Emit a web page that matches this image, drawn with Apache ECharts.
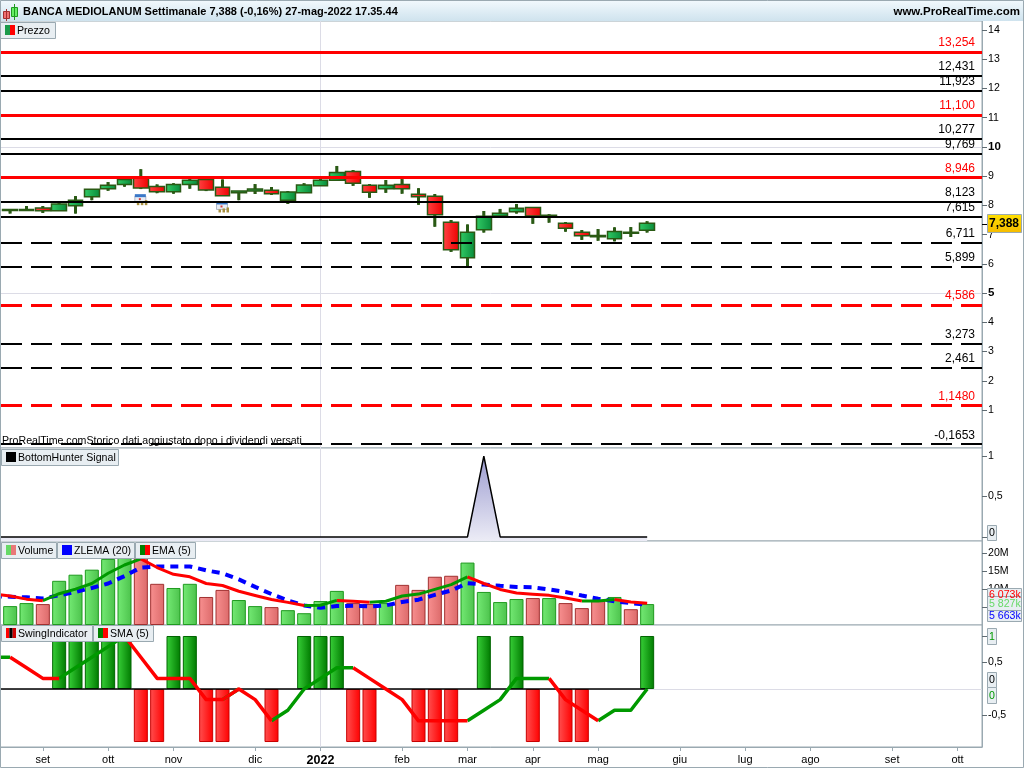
<!DOCTYPE html>
<html><head><meta charset="utf-8">
<style>html,body{margin:0;padding:0;background:#fff}#c{width:1024px;height:768px}</style>
<script src="https://cdn.jsdelivr.net/npm/echarts@6/dist/echarts.min.js"></script>
</head><body><div id="c"></div>
<script>
// Weekly categories: slot 0 is the week just left of the visible window.
const categories = ['', '', '', 'set', '', '', '', 'ott', '', '', '', 'nov', '', '', '', '', 'dic', '', '', '', '2022', '', '', '', '', 'feb', '', '', '', 'mar', '', '', '', 'apr', '', '', '', 'mag', '', '', '', '', 'giu', '', '', '', 'lug', '', '', '', 'ago', '', '', '', '', 'set', '', '', '', 'ott', ''];
const YEAR_SLOT = 20;

const opens  = [7.83,7.83,7.91,7.82,7.99,8.30,8.57,8.72,8.93,8.65,8.47,8.72,8.89,8.62,8.43,8.49,8.52,8.18,8.43,8.67,8.86,9.16,8.69,8.57,8.72,8.38,8.31,7.42,6.21,7.17,7.64,7.78,7.93,7.66,7.39,7.08,6.93,6.86,7.05,7.15];
const closes = [7.86,7.86,7.82,8.05,8.18,8.55,8.69,8.89,8.60,8.47,8.72,8.86,8.53,8.33,8.49,8.56,8.40,8.46,8.70,8.86,9.13,8.76,8.45,8.69,8.57,8.30,7.68,6.48,7.08,7.63,7.73,7.90,7.64,7.63,7.22,6.96,6.97,7.11,7.08,7.388];
const lows   = [7.72,7.83,7.74,7.82,7.72,8.18,8.50,8.64,8.56,8.42,8.40,8.57,8.49,8.33,8.18,8.39,8.36,8.05,8.43,8.67,8.84,8.67,8.26,8.43,8.40,8.02,7.27,6.41,5.87,7.07,7.58,7.72,7.37,7.41,7.10,6.82,6.79,6.77,6.92,7.07];
const highs  = [7.87,7.98,7.98,8.13,8.32,8.55,8.80,8.95,9.24,8.72,8.76,8.93,8.89,8.89,8.49,8.73,8.63,8.49,8.76,8.93,9.35,9.21,8.73,8.87,8.90,8.59,8.39,7.50,7.35,7.81,7.88,8.05,7.93,7.70,7.43,7.16,7.19,7.25,7.26,7.46];

const redSolidLevels    = [[13.254,'13,254'],[11.1,'11,100'],[8.946,'8,946']];
const blackSolidLevels  = [[12.431,'12,431'],[11.923,'11,923'],[10.277,'10,277'],[9.769,'9,769'],[8.123,'8,123'],[7.615,'7,615']];
const blackDashedLevels = [[6.711,'6,711'],[5.899,'5,899'],[3.273,'3,273'],[2.461,'2,461'],[-0.1653,'-0,1653']];
const redDashedLevels   = [[4.586,'4,586'],[1.148,'1,1480']];
const dividendSlots  = [9, 14];
const dividendLevels = [8.18, 7.93];

const priceTicks = [14,13,12,11,10,9,8,7,6,5,4,3,2,1];
const signalTicks = [1,0.5,0];
const volumeTicks = [20,15,10,5];
const swingTicks = [1,0.5,-0.5];

const signal = [0,0,0,0,0,0,0,0,0,0,0,0,0,0,0,0,0,0,0,0,0,0,0,0,0,0,0,0,0,0,1,0,0,0,0,0,0,0,0,0,0];

const volumes = [5.26,6.1,5.82,12.3,14.0,15.4,18.4,18.8,18.6,11.46,10.3,11.46,7.8,9.77,6.95,5.26,4.98,4.13,3.28,6.67,9.49,6.1,5.83,6.1,11.17,9.77,13.43,13.7,17.37,9.2,6.38,7.23,7.5,7.5,6.1,4.7,6.67,7.8,4.4,5.827];
const volumeIsUp = [1,1,0,1,1,1,1,1,0,0,1,1,0,0,1,1,0,1,1,1,1,0,0,1,0,0,0,0,1,1,1,1,0,1,0,0,0,1,0,1];
const zlema = [8.0,7.89,7.7,7.4,8.26,9.2,10.3,11.55,13.6,16.0,16.3,16.3,16.3,15.2,14.4,12.7,10.6,8.6,6.85,5.45,4.8,5.26,5.35,5.16,5.45,6.4,7.05,8.4,9.6,11.65,11.25,10.9,10.6,10.5,9.9,9.2,8.2,7.3,6.6,6.1,5.663];
const ema = [8.6,8.08,7.2,6.77,8.7,9.98,11.55,14.4,16.7,18.4,16.0,14.1,13.4,11.55,11.0,9.4,8.2,7.1,6.3,5.45,5.5,6.85,6.6,6.3,6.6,8.08,8.6,9.9,11.25,13.4,11.55,9.9,8.9,8.55,8.25,7.5,6.67,6.7,7.1,6.4,6.073];

const swing = [null,null,null,1,1,1,1,1,-1,-1,1,1,-1,-1,null,null,-1,null,1,1,1,-1,-1,null,null,-1,-1,-1,null,1,null,1,-1,null,-1,-1,null,null,null,1];
const sma = [0.6,0.6,0.4,0.2,0.2,0.4,0.6,0.8,1,0.6,0.2,0.2,0.2,-0.2,-0.2,0,-0.2,-0.6,-0.4,0,0.2,0.4,0.4,0.2,0,-0.2,-0.6,-0.6,-0.6,-0.6,-0.4,-0.2,0.2,0.2,0.2,-0.2,-0.4,-0.6,-0.4,-0.4,0];
const zeroLine = sma.map(() => 0);

const FONT = '"Liberation Sans", Arial, sans-serif';
const EDGE = '#9aa9b1', WICK = '#2a5a14';
const lr = (a, b) => ({type:'linear',x:0,y:0,x2:1,y2:0,colorStops:[{offset:0,color:a},{offset:1,color:b}]});
const comma = v => String(v).replace('.', ',');
const bold = new Set(['10','5','2022']);

const panels = [[21,427],[448,93],[541,84],[625,122]];
const grid = panels.map(([top,height]) => ({left:-14.33,width:996.33,top,height,show:true,borderColor:EDGE,borderWidth:1,backgroundColor:'#fff',outerBoundsMode:'none'}));
const xAxis = panels.map((_, i) => {
  const last = i === 3;
  return {type:'category',gridIndex:i,data:categories,boundaryGap:true,position:'bottom',
    axisLine:{show:last,onZero:false,lineStyle:{color:EDGE}},
    axisTick:{show:last,alignWithLabel:true,length:4,lineStyle:{color:EDGE},interval:(n,v)=>v!==''},
    axisLabel:{show:last,interval:(n,v)=>v!=='',margin:7,color:'#000',fontFamily:FONT,fontSize:11,
      formatter:v=>bold.has(v)?`{b|${v}}`:v,rich:{b:{fontWeight:'bold',fontSize:12.5,fontFamily:FONT,color:'#000'}}},
    splitLine:{show:false}};
});
function yA(i,min,max,ticks,fmt){
  return {type:'value',gridIndex:i,position:'right',min,max,scale:true,
    axisLine:{show:true,onZero:false,lineStyle:{color:EDGE}},
    axisTick:{show:true,length:5,inside:false,customValues:ticks,lineStyle:{color:'#5f6b72'}},
    axisLabel:{show:true,customValues:ticks,margin:6,color:'#000',fontFamily:FONT,fontSize:10.6,formatter:fmt,
      rich:{b:{fontWeight:'bold',fontSize:11.5,fontFamily:FONT,color:'#000'}}},
    splitLine:{show:false}};
}
const yAxis = [
  yA(0,-0.3,14.31,priceTicks,v=>bold.has(String(v))?`{b|${v}}`:String(v)),
  yA(1,-0.05,1.1,signalTicks,comma),
  yA(2,0,23.38,volumeTicks,v=>v+'M'),
  yA(3,-1.094,1.2075,swingTicks,comma)
];

function backdrop(i, extra){
  return {type:'line',name:'guide'+i,xAxisIndex:i,yAxisIndex:i,data:[],z:1,silent:true,
    markLine:{silent:true,symbol:['none','none'],animation:false,z:1,label:{show:false},
      lineStyle:{color:'#dcdce6',width:1,type:'solid'},
      data:[{xAxis:YEAR_SLOT}].concat(extra.map(v=>({yAxis:v})))}};
}
function levels(name, list, color, width, dashed){
  return {type:'line',name,xAxisIndex:0,yAxisIndex:0,data:[],z:6,silent:true,
    markLine:{silent:true,symbol:['none','none'],animation:false,z:6,
      lineStyle:{color,width,type:dashed?[21,9]:'solid',dashOffset:dashed?14.67:0},
      label:{show:true,position:'insideEndTop',distance:[7,3],color:color==='#ff0000'?'#ff0000':'#000',fontFamily:FONT,fontSize:12,formatter:p=>p.name},
      data:list.map(([v,t])=>({yAxis:v,name:t}))}};
}
// split a line into rising / falling runs (flat runs keep the previous colour)
function runs(values){
  const dir=[]; let d=1;
  for(let i=0;i<values.length-1;i++){ if(values[i+1]>values[i]) d=1; else if(values[i+1]<values[i]) d=-1; dir.push(d); }
  const pick=s=>values.map((v,i)=>[i,(dir[i]===s||dir[i-1]===s)?v:null]);
  return {up:pick(1),down:pick(-1)};
}
const emaRuns=runs(ema), smaRuns=runs(sma);
function trend(name,i,data,color,width){
  return {type:'line',name,xAxisIndex:i,yAxisIndex:i,data,showSymbol:false,symbol:'none',z:5,silent:true,
    lineStyle:{color,width,join:'round'},itemStyle:{color}};
}
const series = [
  backdrop(0,[10,5]), backdrop(1,[]), backdrop(2,[]), backdrop(3,[0]),
  {type:'custom',name:'Ombre',xAxisIndex:0,yAxisIndex:0,z:2,silent:true,clip:true,
    data:lows.map((l,i)=>[i+1,l,highs[i]]),encode:{x:0,y:[1,2]},
    renderItem:(p,api)=>{const a=api.coord([api.value(0),api.value(1)]),b=api.coord([api.value(0),api.value(2)]);
      return {type:'line',shape:{x1:a[0],y1:a[1],x2:b[0],y2:b[1]},style:{stroke:WICK,lineWidth:3}};}},
  {type:'candlestick',name:'Prezzo',xAxisIndex:0,yAxisIndex:0,z:3,silent:true,barWidth:15,
    data:opens.map((o,i)=>[i+1,o,closes[i],lows[i],highs[i]]),encode:{x:0,y:[1,2,3,4]},
    itemStyle:{color:lr('#33cc66','#078a3a'),color0:lr('#ff4444','#ee0000'),borderColor:WICK,borderColor0:WICK,borderWidth:1.5}},
  {type:'custom',name:'Dividendi',xAxisIndex:0,yAxisIndex:0,z:4,silent:true,
    data:dividendSlots.map((s,i)=>[s,dividendLevels[i]]),encode:{x:0,y:1},
    renderItem:(p,api)=>{const c=api.coord([api.value(0),api.value(1)]),x=c[0]-6,y=c[1]-6;
      return {type:'group',children:[
        {type:'rect',shape:{x,y:y+2,width:11,height:6},style:{fill:'#e8ecf4',stroke:'#b0b8c8',lineWidth:1}},
        {type:'rect',shape:{x,y,width:11,height:3},style:{fill:'#3a78c8'}},
        {type:'rect',shape:{x:x+4,y:y+4,width:2,height:2},style:{fill:'#d04040'}},
        {type:'rect',shape:{x:x+2,y:y+8,width:2.5,height:3},style:{fill:'#a89040'}},
        {type:'rect',shape:{x:x+6,y:y+7,width:2.5,height:4},style:{fill:'#a89040'}},
        {type:'rect',shape:{x:x+10,y:y+6,width:2.5,height:5},style:{fill:'#a89040'}}]};}},
  levels('Livelli rossi',redSolidLevels,'#ff0000',3,false),
  levels('Livelli neri',blackSolidLevels,'#000000',2,false),
  levels('Livelli neri tratteggiati',blackDashedLevels,'#000000',2,true),
  levels('Livelli rossi tratteggiati',redDashedLevels,'#ff0000',3,true),
  {type:'line',name:'BottomHunter Signal',xAxisIndex:1,yAxisIndex:1,data:signal.map((v,i)=>[i,v]),showSymbol:false,symbol:'none',z:3,silent:true,
    lineStyle:{color:'#000',width:1.5},
    areaStyle:{origin:'start',opacity:1,color:{type:'linear',x:0,y:0,x2:0,y2:1,colorStops:[{offset:0,color:'#9c9cd0'},{offset:1,color:'#ecECf6'}]}}},
  {type:'bar',name:'Volume',xAxisIndex:2,yAxisIndex:2,barWidth:14,z:2,silent:true,
    data:volumes.map((v,i)=>({value:[i+1,v],itemStyle:volumeIsUp[i]
      ?{color:lr('#74ea74','#4cc24c'),borderColor:'#1f9a1f',borderWidth:1}
      :{color:lr('#f89090','#dc6a6a'),borderColor:'#a03030',borderWidth:1}}))},
  {type:'line',name:'ZLEMA (20)',xAxisIndex:2,yAxisIndex:2,data:zlema.map((v,i)=>[i,v]),showSymbol:false,symbol:'none',z:4,silent:true,
    lineStyle:{color:'#0000ff',width:4,type:[8,6]}},
  trend('EMA (5) su',2,emaRuns.up,'#009900',3),
  trend('EMA (5) giu',2,emaRuns.down,'#ff0000',3),
  {type:'bar',name:'SwingIndicator',xAxisIndex:3,yAxisIndex:3,barWidth:14,z:2,silent:true,
    data:swing.map((v,i)=>[i+1,v]).filter(d=>d[1]!==null).map(d=>({value:d,itemStyle:d[1]>0
      ?{color:lr('#38d038','#007a00'),borderColor:'#006400',borderWidth:1}
      :{color:lr('#ff5050','#ff0000'),borderColor:'#c80000',borderWidth:1}}))},
  {type:'line',name:'Zero',xAxisIndex:3,yAxisIndex:3,data:zeroLine.map((v,i)=>[i,v]),showSymbol:false,symbol:'none',z:3,silent:true,lineStyle:{color:'#000',width:1.5}},
  trend('SMA (5) su',3,smaRuns.up,'#009900',3.5),
  trend('SMA (5) giu',3,smaRuns.down,'#ff0000',3.5)
];

// chrome: header, legend tabs, last-value boxes
const Z=50, els=[];
const SMALL='10.6px '+FONT;
const rect=(x,y,w,h,fill,stroke,z)=>els.push({type:'rect',silent:true,z:z||Z,shape:{x,y,width:w,height:h},style:{fill,stroke:stroke||null,lineWidth:stroke?1:0}});
const text=(x,y,t,fill,font,align,z)=>els.push({type:'text',silent:true,z:z||Z+1,x,y,style:{text:t,fill:fill||'#000',font:font||SMALL,textAlign:align||'left',textVerticalAlign:'middle'}});
rect(0,0,1024,21,{type:'linear',x:0,y:0,x2:0,y2:1,colorStops:[{offset:0,color:'#f2f9fd'},{offset:1,color:'#cfe3ee'}]},null);
rect(0.5,0.5,1023,767,'transparent',EDGE);
rect(3.5,11.5,6,7,'#f07070','#a03030'); rect(6,9,1,12,'#a03030');
rect(11.5,7.5,6,9,'#66ee66','#1f9a1f'); rect(14,4,1,16,'#1f9a1f');
text(23,12,'BANCA MEDIOLANUM Settimanale 7,388 (-0,16%) 27-mag-2022 17.35.44','#000','bold 11px '+FONT);
text(1020,12,'www.ProRealTime.com','#000','bold 11.5px '+FONT,'right');
text(2,441,'ProRealTime.comStorico dati aggiustato dopo i dividendi versati');
function tab(x,y,w,label,colors){
  rect(x+0.5,y+0.5,w,16,'#e8eef2',EDGE);
  const n=colors.length,cw=10/n;
  colors.forEach((c,k)=>rect(x+5+k*cw,y+3,cw,10,c));
  text(x+17,y+9,label);
}
tab(0,22,55,'Prezzo',['#1a9a4a','#ff0000']);
tab(1,449,117,'BottomHunter Signal',['#000']);
tab(1,542,55,'Volume',['#66d966','#e87878']);
tab(57,542,77,'ZLEMA (20)',['#0000ff']);
tab(135,542,60,'EMA (5)',['#008000','#ff0000']);
tab(1,625,91,'SwingIndicator',['#ff0000','#000','#cc0000']);
tab(93,625,60,'SMA (5)',['#008000','#ff0000']);
function valueBox(x,y,w,h,label,color,fill,font){
  rect(x+0.5,y+0.5,w,h,fill||'#e8eef2',EDGE,Z+2);
  text(x+2,y+h/2+1,label,color,font,'left',Z+3);
}
rect(982,224,5,1,'#000');
valueBox(987,214,34,18,'7,388','#000',{type:'linear',x:0,y:0,x2:0,y2:1,colorStops:[{offset:0,color:'#ffe000'},{offset:1,color:'#f5bb00'}]},'bold 12px '+FONT);
valueBox(987,525,9,15,'0','#000');
valueBox(987,588,34,12,'6 073k','#ff0000');
valueBox(987,609,34,12,'5 663k','#0000ff');
valueBox(987,596,34,14,'5 827k','#66d966');
valueBox(987,628,9,16,'1','#009900');
valueBox(987,672,9,15,'0','#000');
valueBox(987,687,9,16,'0','#009900');

const chart=echarts.init(document.getElementById('c'),null,{renderer:'canvas'});
chart.setOption({animation:false,backgroundColor:'#fff',tooltip:{show:false},legend:{show:false},grid,xAxis,yAxis,series,graphic:{elements:els}});
</script></body></html>
